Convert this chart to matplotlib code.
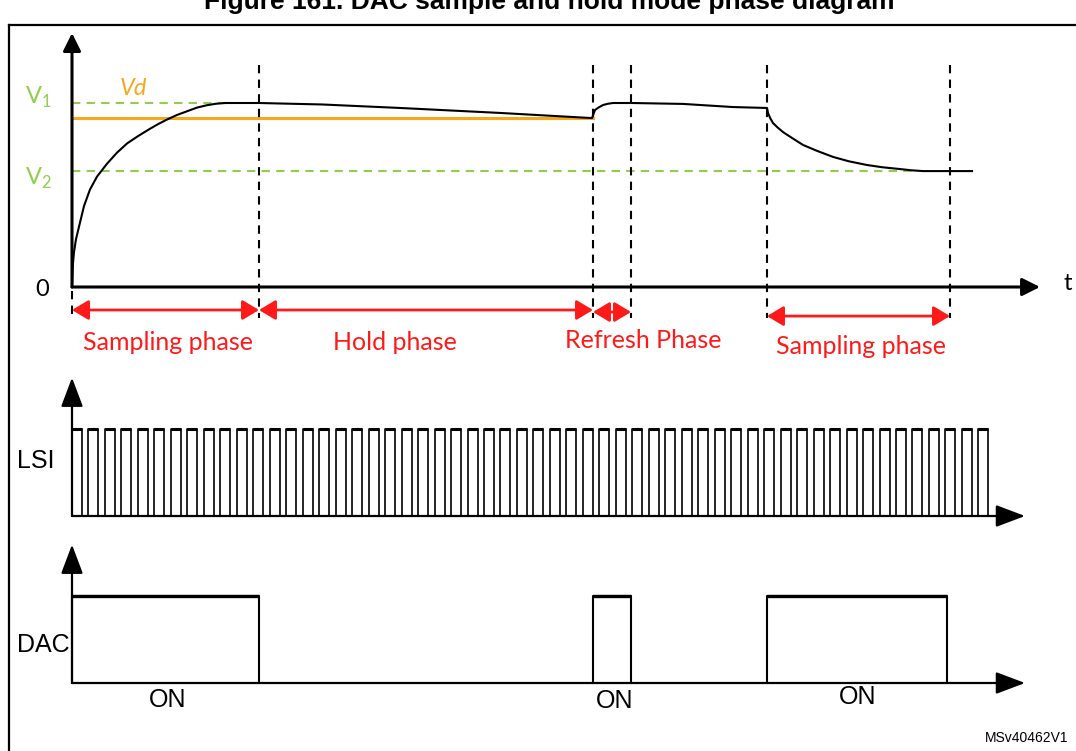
import numpy as np
import matplotlib.pyplot as plt
from matplotlib.lines import Line2D

# --- data (time in arbitrary units, voltage normalised so V1 = 1) ---
phase_bounds = [0.0, 18.7, 52.1, 55.9, 69.5, 87.8]
phase_labels = ['Sampling phase', 'Hold phase', 'Refresh Phase', 'Sampling phase']
V1 = 1.0
V2 = 0.63
Vd = 0.918

curve_t = [0.0, 0.05, 0.1, 0.2, 0.4, 0.8, 1.2, 1.8, 2.5, 3.5, 4.5, 5.5, 6.6, 7.8,
           8.6, 9.5, 10.5, 11.5, 12.5, 13.5, 14.4, 15.3, 16.5, 18.7,
           25.0, 32.8, 42.8, 52.0, 52.15, 52.3, 52.7, 53.1, 53.6, 54.1, 56.0,
           61.1, 66.1, 69.5, 69.6, 69.8, 70.1, 70.6, 71.1, 72.0, 73.1, 74.5,
           76.1, 77.7, 79.5, 81.0, 82.8, 84.0, 85.1, 86.5, 90.0]
curve_v = [0.0, 0.07, 0.13, 0.19, 0.26, 0.35, 0.44, 0.53, 0.60, 0.67, 0.73, 0.78,
           0.82, 0.86, 0.885, 0.91, 0.935, 0.955, 0.975, 0.988, 0.996, 1.0, 1.0, 1.0,
           0.992, 0.973, 0.946, 0.918, 0.94, 0.962, 0.977, 0.989, 0.996, 1.0, 1.0,
           0.995, 0.978, 0.973, 0.946, 0.92, 0.891, 0.865, 0.842, 0.81, 0.772, 0.74,
           0.707, 0.683, 0.663, 0.651, 0.641, 0.634, 0.630, 0.630, 0.630]

lsi_pulses = 56
lsi_period = 1.648
lsi_high = 1.0

dac_on = [(0.0, 18.7), (52.1, 55.9), (69.5, 87.5)]
dac_labels = ['ON', 'ON', 'ON']

RED = '#FF1A1A'
GREEN = '#92CD50'
ORANGE = '#F5A81C'
SANS = 'Liberation Sans'
CAL = 'Lato'

W, H = 1076, 751
fig = plt.figure(figsize=(W / 100, H / 100), dpi=100)


def panel(top_px, bot_px, zero_px, unit_px):
    ax = fig.add_axes([0, 1 - bot_px / H, 1, (bot_px - top_px) / H])
    ax.set_xlim(-7.2, (W - 72) / 10)
    ax.set_ylim((zero_px - bot_px) / unit_px, (zero_px - top_px) / unit_px)
    ax.axis('off')
    return ax


def axis_arrow(ax, xy, xytext, lw, hl, hw):
    ax.annotate('', xy=xy, xytext=xytext,
                arrowprops=dict(arrowstyle=f'-|>,head_length={hl},head_width={hw}',
                                lw=lw, color='black', mutation_scale=20,
                                shrinkA=0, shrinkB=0))


# frame and title (title is clipped at the top, as in the source page)
fig.add_artist(Line2D([9 / W, 9 / W], [0, 1 - 25 / H], color='black', lw=1.6))
fig.add_artist(Line2D([9 / W, 1], [1 - 25 / H, 1 - 25 / H], color='black', lw=1.6))
fig.text(549 / W, 1 - 9 / H, 'Figure 161. DAC sample and hold mode phase diagram',
         ha='center', va='baseline', fontsize=19, fontweight='bold', family=SANS)
fig.text(985 / W, 1 - 738 / H, 'MSv40462V1', ha='left', va='center',
         fontsize=10, family=SANS)

# ---------------- top panel: voltage ----------------
ax = panel(30, 365, 287, 184)
axis_arrow(ax, (0, 1.38), (0, 0), 2.2, 0.54, 0.27)
axis_arrow(ax, (96.8, 0), (0, 0), 2.2, 0.54, 0.27)

ax.plot([0, 16], [V1, V1], color=GREEN, lw=1.5, ls=(0, (4, 3)))
ax.plot([0, 84], [V2, V2], color=GREEN, lw=1.5, ls=(0, (4, 3)))
ax.plot([0, phase_bounds[2]], [Vd, Vd], color=ORANGE, lw=2.2)
ax.plot(curve_t, curve_v, color='black', lw=1.5)

for b in phase_bounds[1:]:
    ax.plot([b, b], [1.207, -0.168], color='black', lw=1.5, ls=(0, (4, 3)))
ax.plot([0, 0], [-0.02, -0.168], color='black', lw=1.5, ls=(0, (4, 3)))

arrow_spans = [(phase_bounds[0], phase_bounds[1], -0.125),
               (phase_bounds[1], phase_bounds[2], -0.125),
               (phase_bounds[2], phase_bounds[3], -0.136),
               (phase_bounds[4], phase_bounds[5], -0.158)]
label_pos = [(9.6, -0.30), (32.3, -0.30), (57.1, -0.293), (78.9, -0.326)]
for (a, b, y), lab, (lx, ly) in zip(arrow_spans, phase_labels, label_pos):
    ax.annotate('', xy=(b, y), xytext=(a, y),
                arrowprops=dict(arrowstyle='<|-|>,head_length=0.5,head_width=0.3',
                                lw=2.0, color=RED, mutation_scale=20,
                                shrinkA=0, shrinkB=0))
    ax.text(lx, ly, lab, color=RED, ha='center', va='center', fontsize=18, family=CAL)

ax.text(-3.4, 1.033, r'V$_\mathregular{1}$', color=GREEN, ha='center', va='center',
        fontsize=17, family=CAL)
ax.text(-3.4, 0.59, r'V$_\mathregular{2}$', color=GREEN, ha='center', va='center',
        fontsize=17, family=CAL)
ax.text(6.1, 1.08, 'Vd', color=ORANGE, ha='center', va='center', fontsize=17,
        family=CAL, style='italic')
ax.text(-3.0, -0.016, '0', ha='center', va='center', fontsize=17, family=CAL)
ax.text(99.6, 0.02, 't', ha='center', va='center', fontsize=17, family=CAL)

# ---------------- LSI clock ----------------
ax = panel(370, 530, 516, 87)
axis_arrow(ax, (0, 1.59), (0, 0), 1.6, 0.9, 0.34)
axis_arrow(ax, (95.3, 0), (0, 0), 1.6, 0.9, 0.34)
starts = [i * lsi_period for i in range(lsi_pulses)]
for s in starts:
    ax.plot([s, s, s + lsi_high, s + lsi_high], [0, 1, 1, 0], color='black', lw=1.2)
    ax.plot([s, s + lsi_high], [1, 1], color='black', lw=2.2, solid_capstyle='butt')
ax.text(-3.6, 0.632, 'LSI', ha='center', va='center', fontsize=18, family=SANS)

# ---------------- DAC ----------------
ax = panel(540, 720, 683, 87)
axis_arrow(ax, (0, 1.59), (0, 0), 1.6, 0.9, 0.34)
axis_arrow(ax, (95.3, 0), (0, 0), 1.6, 0.9, 0.34)
for a, b in dac_on:
    ax.plot([a, a, b, b], [0, 1, 1, 0], color='black', lw=1.5)
    ax.plot([a, b], [1, 1], color='black', lw=2.4, solid_capstyle='butt')
on_pos = [(9.6, -0.195), (54.3, -0.207), (78.6, -0.161)]
for lab, (lx, ly) in zip(dac_labels, on_pos):
    ax.text(lx, ly, lab, ha='center', va='center', fontsize=18, family=SANS)
ax.text(-2.9, 0.437, 'DAC', ha='center', va='center', fontsize=18, family=SANS)

fig.savefig('out.png', dpi=100)
